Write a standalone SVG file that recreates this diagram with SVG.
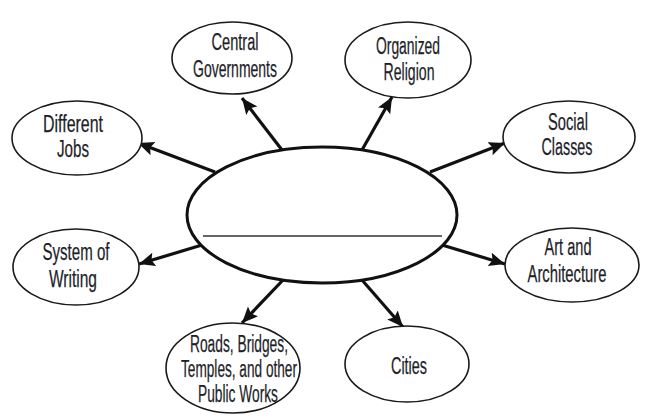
<svg xmlns="http://www.w3.org/2000/svg" width="651" height="418" viewBox="0 0 651 418">
<style>
.node ellipse{fill:#fff;stroke:#1a1a1a;stroke-width:1.6}
.node text{font-family:"Liberation Sans",Arial,sans-serif;font-size:23px;fill:#1e1e28;stroke:#1e1e28;stroke-width:0.25;text-anchor:middle}
.conn line{stroke:#111;stroke-width:3.2;marker-end:url(#ah)}
</style>
<defs>
<marker id="ah" markerUnits="userSpaceOnUse" markerWidth="18" markerHeight="16" refX="16" refY="7" orient="auto">
<path d="M0,0 L16,7 L0,14 L3,7 Z" fill="#111"/>
</marker>
</defs>
<rect width="651" height="418" fill="#fff"/>
<g id="connectors" class="conn">
<line x1="282" y1="150" x2="242" y2="98"/>
<line x1="362" y1="150" x2="392" y2="97"/>
<line x1="215" y1="172" x2="138" y2="143"/>
<line x1="430" y1="172" x2="505" y2="143"/>
<line x1="202" y1="245" x2="139" y2="264"/>
<line x1="442" y1="245" x2="505" y2="264"/>
<line x1="283" y1="280" x2="242" y2="323"/>
<line x1="362" y1="280" x2="403" y2="327"/>
</g>
<g id="center">
<ellipse cx="322" cy="215" rx="135" ry="68" fill="#fff" stroke="#111" stroke-width="3"/>
<line x1="203" y1="236" x2="442" y2="236" stroke="#333" stroke-width="1.6"/>
</g>
<g id="central-governments" class="node">
<ellipse cx="232" cy="58" rx="60" ry="36"/>
<text x="235" y="50" textLength="47" lengthAdjust="spacingAndGlyphs">Central</text>
<text x="235" y="77" textLength="84" lengthAdjust="spacingAndGlyphs">Governments</text>
</g>
<g id="organized-religion" class="node">
<ellipse cx="408" cy="60" rx="63" ry="38"/>
<text x="408" y="54" textLength="64" lengthAdjust="spacingAndGlyphs">Organized</text>
<text x="409" y="80" textLength="51" lengthAdjust="spacingAndGlyphs">Religion</text>
</g>
<g id="different-jobs" class="node">
<ellipse cx="77" cy="138" rx="65" ry="37"/>
<text x="73" y="132" textLength="60" lengthAdjust="spacingAndGlyphs">Different</text>
<text x="73" y="157" textLength="32" lengthAdjust="spacingAndGlyphs">Jobs</text>
</g>
<g id="social-classes" class="node">
<ellipse cx="569" cy="137" rx="66" ry="36"/>
<text x="568" y="130" textLength="40" lengthAdjust="spacingAndGlyphs">Social</text>
<text x="567" y="155" textLength="51" lengthAdjust="spacingAndGlyphs">Classes</text>
</g>
<g id="system-of-writing" class="node">
<ellipse cx="76" cy="267" rx="63" ry="38"/>
<text x="76" y="260" textLength="67" lengthAdjust="spacingAndGlyphs">System of</text>
<text x="73" y="287" textLength="48" lengthAdjust="spacingAndGlyphs">Writing</text>
</g>
<g id="art-and-architecture" class="node">
<ellipse cx="572" cy="265" rx="67" ry="37"/>
<text x="568" y="255" textLength="47" lengthAdjust="spacingAndGlyphs">Art and</text>
<text x="567" y="282" textLength="79" lengthAdjust="spacingAndGlyphs">Architecture</text>
</g>
<g id="roads-bridges" class="node">
<ellipse cx="233" cy="368" rx="67" ry="45"/>
<text x="239" y="352" textLength="98" lengthAdjust="spacingAndGlyphs">Roads, Bridges,</text>
<text x="239" y="377" textLength="116" lengthAdjust="spacingAndGlyphs">Temples, and other</text>
<text x="238" y="402" textLength="80" lengthAdjust="spacingAndGlyphs">Public Works</text>
</g>
<g id="cities" class="node">
<ellipse cx="407" cy="364" rx="62" ry="38"/>
<text x="409" y="374" textLength="36" lengthAdjust="spacingAndGlyphs">Cities</text>
</g>
</svg>
